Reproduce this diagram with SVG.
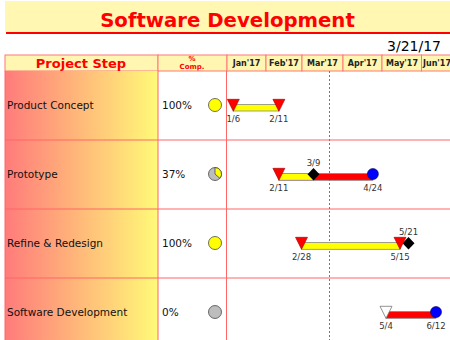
<svg xmlns="http://www.w3.org/2000/svg" width="450" height="340" viewBox="0 0 450 340">
<defs>
<linearGradient id="stepGrad" x1="0" y1="0" x2="1" y2="0">
<stop offset="0" stop-color="#FF7B7B"/>
<stop offset="1" stop-color="#FFFA78"/>
</linearGradient>
</defs>
<style>
text{font-family:"DejaVu Sans","Liberation Sans",sans-serif}
.title{font-size:19.7px;font-weight:bold;fill:#FF0000}
.hdr{fill:#FFF6B2;stroke:#F77;stroke-width:1}
.mon{font-size:8px;font-weight:bold;fill:#222;text-anchor:middle}
.lbl{font-size:10.5px;fill:#111}
.pct{font-size:10.5px;fill:#111}
.dt{font-size:8.5px;fill:#333;text-anchor:middle}
.grid{stroke:#F66;stroke-width:1}
.bar{stroke:#888;stroke-width:0.8}
.tri{fill:#F00;stroke:#900;stroke-width:0.6}
.dia{fill:#000}
.end{fill:#00F;stroke:#005;stroke-width:0.6}
.dot{stroke:#333;stroke-width:0.7}
</style>
<rect width="450" height="340" fill="#FFFFFF"/>
<g id="title">
<rect x="5" y="1" width="445" height="31" fill="#FFF7B2"/>
<line x1="6" y1="33" x2="450" y2="33" stroke="#F00" stroke-width="2"/>
<text class="title" x="227.5" y="27" text-anchor="middle">Software Development</text>
</g>
<g id="date">
<text x="441" y="51" font-size="14" text-anchor="end" fill="#000">3/21/17</text>
</g>
<g id="header">
<rect class="hdr" x="5" y="55" width="153" height="16"/>
<text x="81" y="68" font-size="13" font-weight="bold" fill="#F00" text-anchor="middle">Project Step</text>
<rect class="hdr" x="158" y="55" width="69" height="16"/>
<text x="192" y="61" font-size="7" font-weight="bold" fill="#F00" text-anchor="middle">%</text>
<text x="192" y="69" font-size="7" font-weight="bold" fill="#F00" text-anchor="middle">Comp.</text>
<rect class="hdr" x="227" y="55" width="39" height="16"/>
<rect class="hdr" x="266" y="55" width="36" height="16"/>
<rect class="hdr" x="302" y="55" width="41" height="16"/>
<rect class="hdr" x="343" y="55" width="39" height="16"/>
<rect class="hdr" x="382" y="55" width="39.5" height="16"/>
<rect class="hdr" x="421.5" y="55" width="40" height="16"/>
<text class="mon" x="246.5" y="66">Jan'17</text>
<text class="mon" x="284" y="66">Feb'17</text>
<text class="mon" x="322.5" y="66">Mar'17</text>
<text class="mon" x="362.5" y="66">Apr'17</text>
<text class="mon" x="402" y="66">May'17</text>
<text class="mon" x="423" y="66" style="text-anchor:start">Jun'17</text>
</g>
<g id="grid">
<rect x="5" y="71" width="153" height="270" fill="url(#stepGrad)"/>
<line class="grid" x1="5" y1="71" x2="5" y2="340"/>
<line class="grid" x1="158" y1="71" x2="158" y2="340"/>
<line class="grid" x1="226.5" y1="71" x2="226.5" y2="340"/>
<line class="grid" x1="5" y1="140" x2="450" y2="140"/>
<line class="grid" x1="5" y1="209" x2="450" y2="209"/>
<line class="grid" x1="5" y1="278" x2="450" y2="278"/>
<line x1="329.5" y1="71" x2="329.5" y2="340" stroke="#777" stroke-width="1" stroke-dasharray="2,2"/>
</g>
<g id="task-product-concept">
<text class="lbl" x="7" y="109.3">Product Concept</text>
<text class="pct" x="162" y="109.3">100%</text>
<circle class="dot" cx="215" cy="105" r="6.5" fill="#FF0"/>
<rect class="bar" x="233.3" y="104.5" width="45.6" height="6.5" fill="#FF0"/>
<polygon class="tri" points="227.3,99.3 239.3,99.3 233.3,111.3"/>
<polygon class="tri" points="272.9,99.3 284.9,99.3 278.9,111.3"/>
<text class="dt" x="233.3" y="121.5">1/6</text>
<text class="dt" x="278.9" y="121.5">2/11</text>
</g>
<g id="task-prototype">
<text class="lbl" x="7" y="178.3">Prototype</text>
<text class="pct" x="162" y="178.3">37%</text>
<circle class="dot" cx="215" cy="174" r="6.5" fill="#BDBDBD"/>
<path class="dot" d="M215,174 L215,167.5 A6.5,6.5 0 0 1 219.9,178.3 Z" fill="#FF0"/>
<rect class="bar" x="278.9" y="173.5" width="94" height="6.8" fill="#F00"/>
<rect x="279.3" y="173.9" width="34.2" height="6" fill="#FF0"/>
<polygon class="tri" points="272.9,168.3 284.9,168.3 278.9,180.3"/>
<polygon class="dia" points="313.5,168 319.5,174.3 313.5,180.6 307.5,174.3"/>
<circle class="end" cx="372.9" cy="174" r="5.5"/>
<text class="dt" x="313.5" y="166">3/9</text>
<text class="dt" x="278.9" y="190.5">2/11</text>
<text class="dt" x="372.9" y="190.5">4/24</text>
</g>
<g id="task-refine-redesign">
<text class="lbl" x="7" y="247.3">Refine &amp; Redesign</text>
<text class="pct" x="162" y="247.3">100%</text>
<circle class="dot" cx="215" cy="243" r="6.5" fill="#FF0"/>
<rect class="bar" x="301.5" y="242.5" width="98.5" height="6.8" fill="#FF0"/>
<polygon class="dia" points="408.5,237 414.5,243.3 408.5,249.6 402.5,243.3"/>
<polygon class="tri" points="295.5,237.3 307.5,237.3 301.5,249.3"/>
<polygon class="tri" points="394,237.3 406,237.3 400,249.3"/>
<text class="dt" x="408.5" y="234.5">5/21</text>
<text class="dt" x="301.5" y="259.5">2/28</text>
<text class="dt" x="400" y="259.5">5/15</text>
</g>
<g id="task-software-development">
<text class="lbl" x="7" y="316.3">Software Development</text>
<text class="pct" x="162" y="316.3">0%</text>
<circle class="dot" cx="215" cy="312" r="6.5" fill="#BDBDBD"/>
<rect class="bar" x="386" y="311.5" width="50" height="6.8" fill="#F00"/>
<polygon points="380,306.3 392,306.3 386,318.3" fill="#FFF" stroke="#777" stroke-width="0.8"/>
<circle class="end" cx="436" cy="312" r="5.5"/>
<text class="dt" x="386" y="328.5">5/4</text>
<text class="dt" x="436" y="328.5">6/12</text>
</g>
</svg>
